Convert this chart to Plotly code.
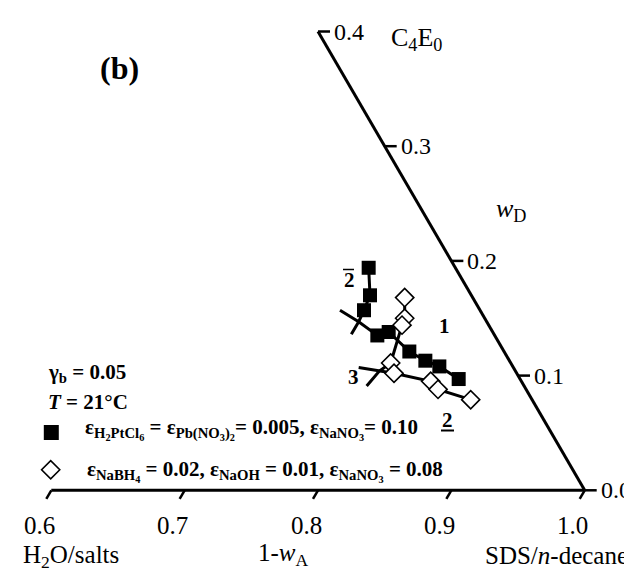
import plotly.graph_objects as go

# ---------------- data (1 - w_A, w_D) ----------------
sq_s = [0.935, 0.924, 0.913, 0.912, 0.922, 0.929, 0.937, 0.945, 0.954]
sq_d = [0.194, 0.170, 0.157, 0.135, 0.138, 0.121, 0.113, 0.108, 0.097]
dm_s = [0.949, 0.940, 0.935, 0.910, 0.908, 0.932, 0.934, 0.954]
dm_d = [0.168, 0.150, 0.144, 0.111, 0.102, 0.095, 0.088, 0.079]

# connecting lines (branches of the phase boundaries)
sq_up_s = [0.935, 0.924, 0.913, 0.904, 0.893]
sq_up_d = [0.194, 0.170, 0.157, 0.147, 0.136]
sq_lo_s = [0.895, 0.904, 0.912, 0.922, 0.929, 0.937, 0.945, 0.954]
sq_lo_d = [0.157, 0.147, 0.135, 0.138, 0.121, 0.113, 0.108, 0.097]
dm_up_s = [0.949, 0.940, 0.935, 0.910, 0.898, 0.882]
dm_up_d = [0.168, 0.150, 0.144, 0.111, 0.104, 0.091]
dm_lo_s = [0.884, 0.898, 0.908, 0.932, 0.934, 0.954]
dm_lo_d = [0.107, 0.104, 0.102, 0.095, 0.088, 0.079]

bottom_ticks = [0.6, 0.7, 0.8, 0.9, 1.0]
right_ticks = [0.0, 0.1, 0.2, 0.3, 0.4]

W, H = 632, 572
FONT = "Liberation Serif, Times New Roman, serif"

# Gibbs-triangle projection: x = (1-wA) - wD/2, y = wD
def tx(s, d):
    return [a - b / 2 for a, b in zip(s, d)]

# pixel geometry -> axis ranges
X0PX, XSC = 43.3, 1333.5
Y0PX, YSC = 482.3, 1147.0
xr = [0.6 - X0PX / XSC, 0.6 + (W - X0PX) / XSC]
yr = [(Y0PX - H) / YSC, Y0PX / YSC]

def px2data(px, py):
    return 0.6 + (px - X0PX) / XSC, (Y0PX - py) / YSC

fig = go.Figure()

# frame: bottom axis + right edge + ticks
fx, fy = [], []
fx += [0.6, 1.0, None]; fy += [0.0, 0.0, None]
fx += [1.0, 1.0 - 0.4 / 2, None]; fy += [0.0, 0.4, None]
fig.add_trace(go.Scatter(x=fx, y=fy, mode="lines",
                         line=dict(color="black", width=3),
                         hoverinfo="skip", showlegend=False))
kx, ky = [], []
t = 0.0075
for v in bottom_ticks:
    kx += [v, v - 0.5 * t, None]; ky += [0.0, -t, None]
for v in right_ticks:
    kx += [1 - v / 2, 1 - v / 2 + 0.009, None]; ky += [v, v, None]
fig.add_trace(go.Scatter(x=kx, y=ky, mode="lines",
                         line=dict(color="black", width=2.5),
                         hoverinfo="skip", showlegend=False))

# branch lines
for s, d in [(sq_up_s, sq_up_d), (sq_lo_s, sq_lo_d),
             (dm_up_s, dm_up_d), (dm_lo_s, dm_lo_d)]:
    fig.add_trace(go.Scatter(x=tx(s, d), y=d, mode="lines",
                             line=dict(color="black", width=3),
                             hoverinfo="skip", showlegend=False))

# markers
fig.add_trace(go.Scatter(x=tx(sq_s, sq_d), y=sq_d, mode="markers",
                         marker=dict(symbol="square", size=14, color="black",
                                     line=dict(color="black", width=0)),
                         showlegend=False))
fig.add_trace(go.Scatter(x=tx(dm_s, dm_d), y=dm_d, mode="markers",
                         marker=dict(symbol="diamond", size=14, color="white",
                                     line=dict(color="black", width=1.6)),
                         showlegend=False))

# legend keys
lx1, ly1 = px2data(43.3, 424.5)
lx2, ly2 = px2data(42.7, 461.7)
fig.add_trace(go.Scatter(x=[lx1], y=[ly1], mode="markers",
                         marker=dict(symbol="square", size=15, color="black"),
                         showlegend=False, hoverinfo="skip"))
fig.add_trace(go.Scatter(x=[lx2], y=[ly2], mode="markers",
                         marker=dict(symbol="diamond", size=14, color="white",
                                     line=dict(color="black", width=1.6)),
                         showlegend=False, hoverinfo="skip"))

ann = []
def P(px, py, text, size=25, xanchor="center", yanchor="middle", **kw):
    ann.append(dict(x=px / W, y=1 - py / H, xref="paper", yref="paper",
                    text=text, showarrow=False, xanchor=xanchor, yanchor=yanchor,
                    font=dict(family=FONT, size=size, color="black"), **kw))

# tick labels
for v in right_ticks:
    ann.append(dict(x=1 - v / 2, y=v, xref="x", yref="y", text=f"{v:.1f}",
                    showarrow=False, xanchor="left", yanchor="middle", xshift=14,
                    font=dict(family=FONT, size=24, color="black")))
for v in bottom_ticks:
    ann.append(dict(x=v, y=0, xref="x", yref="y", text=f"{v:.1f}",
                    showarrow=False, xanchor="center", yanchor="middle",
                    xshift=-12, yshift=-35,
                    font=dict(family=FONT, size=25, color="black")))

# axis / corner labels
P(408, 31, "C<sub>4</sub>E<sub>0</sub>", size=26)
P(503, 202, "<i>w</i><sub>D</sub>", size=26)
P(63, 548, "H<sub>2</sub>O/salts", size=25)
P(275, 546, "1-<i>w</i><sub>A</sub>", size=25)
P(548, 547, "SDS/<i>n</i>-decane", size=25)
P(111, 60, "<b>(b)</b>", size=32)

# curve labels
P(341, 272, "<b>2</b>", size=21)
P(436, 318, "<b>1</b>", size=21)
P(345, 369, "<b>3</b>", size=21)
P(439, 412, "<b>2</b>", size=21)

# legend text
P(38, 365, "<b>γ<sub>b</sub> = 0.05</b>", size=21, xanchor="left")
P(38, 394, "<b><i>T</i> = 21°C</b>", size=21, xanchor="left")
P(75, 421, "<b>ε<sub>H<sub>2</sub>PtCl<sub>6</sub></sub> = ε<sub>Pb(NO<sub>3</sub>)<sub>2</sub></sub>= 0.005, "
           "ε<sub>NaNO<sub>3</sub></sub>= 0.10</b>", size=21, xanchor="left")
P(77, 463, "<b>ε<sub>NaBH<sub>4</sub></sub> = 0.02, ε<sub>NaOH</sub> = 0.01, "
           "ε<sub>NaNO<sub>3</sub></sub> = 0.08</b>", size=21, xanchor="left")

shapes = [
    dict(type="line", xref="paper", yref="paper",
         x0=335 / W, x1=346 / W, y0=1 - 261.5 / H, y1=1 - 261.5 / H,
         line=dict(color="black", width=1.5)),
    dict(type="line", xref="paper", yref="paper",
         x0=433 / W, x1=446 / W, y0=1 - 422.5 / H, y1=1 - 422.5 / H,
         line=dict(color="black", width=2)),
]

fig.update_layout(
    width=W, height=H,
    margin=dict(l=0, r=0, t=0, b=0),
    paper_bgcolor="white", plot_bgcolor="white",
    xaxis=dict(range=xr, visible=False, fixedrange=True),
    yaxis=dict(range=yr, visible=False, fixedrange=True),
    annotations=ann, shapes=shapes, showlegend=False,
)

fig.write_html("out.html")
